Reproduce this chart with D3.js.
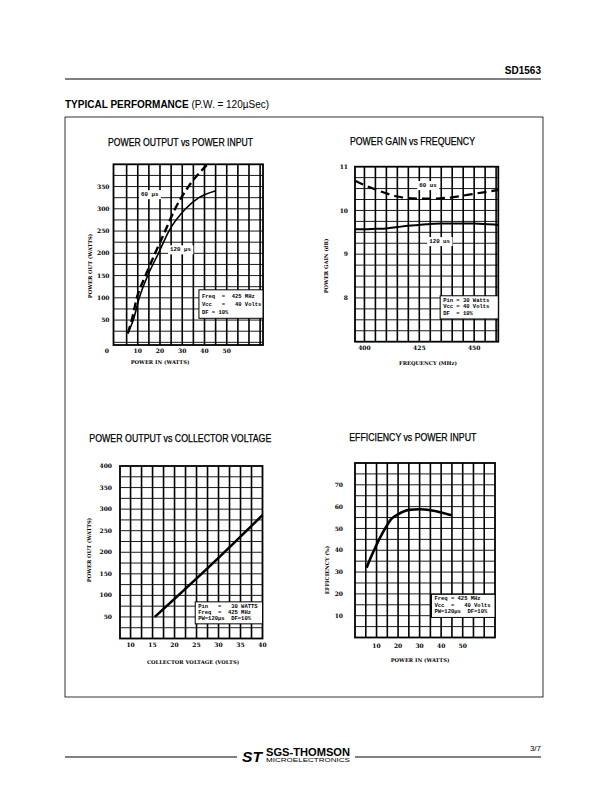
<!DOCTYPE html>
<html>
<head>
<meta charset="utf-8">
<script src="https://cdn.jsdelivr.net/npm/d3@7"></script>
<style>
  body { margin: 0; background: #fff; }
</style>
</head>
<body>
<div id="chart"></div>
<script>
// power output vs power input
const pinIn60 = [5.5, 7.3, 9.6, 13.5, 17.8, 22.3, 26.8, 32.8, 41];
const pout60 = [20, 50, 100, 150, 200, 250, 300, 350, 398];
const pinIn120 = [5.5, 8, 10.7, 14.5, 19.3, 24, 31.5, 37.5, 44.8];
const pout120 = [20, 50, 100, 150, 200, 250, 300, 325, 340];

// power gain vs frequency
const freq = [395.7, 400, 405, 410, 415, 420, 425, 430, 435, 440, 445, 450, 455, 461];
const gain60 = [10.68, 10.58, 10.48, 10.39, 10.32, 10.28, 10.27, 10.27, 10.28, 10.30, 10.34, 10.38, 10.42, 10.47];
const gain120 = [9.57, 9.57, 9.58, 9.59, 9.62, 9.65, 9.67, 9.69, 9.70, 9.70, 9.70, 9.70, 9.69, 9.67];

// power output vs collector voltage
const vcc = [15.5, 30, 40];
const poutVcc = [50, 187, 286];

// efficiency vs power input
const effIn = [5.4, 6.2, 9.3, 14, 17, 20, 25, 30, 35, 40, 45];
const effPct = [32, 34, 41, 50, 54.5, 56.5, 58.5, 58.8, 58.3, 57.3, 56];

const svg = d3.select('#chart').append('svg')
  .attr('width', 612).attr('height', 792)
  .style('font-family', 'Liberation Sans, Arial, sans-serif');

const tickFont = 'DejaVu Serif, serif';
const noteFont = 'Liberation Mono, monospace';

// page header
svg.append('text').attr('x', 541).attr('y', 74).attr('text-anchor', 'end')
  .attr('font-size', 10).attr('font-weight', 'bold').text('SD1563');
svg.append('line').attr('x1', 65).attr('x2', 541).attr('y1', 79).attr('y2', 79)
  .attr('stroke', '#000').attr('stroke-width', 1);
const head = svg.append('text').attr('x', 65).attr('y', 108).attr('font-size', 10);
head.append('tspan').attr('font-weight', 'bold').text('TYPICAL PERFORMANCE ');
head.append('tspan').text('(P.W. = 120\u00b5Sec)');

// outer box
svg.append('rect').attr('x', 65).attr('y', 117).attr('width', 478).attr('height', 580)
  .attr('fill', 'none').attr('stroke', '#000').attr('stroke-width', 0.8);

// footer
svg.append('line').attr('x1', 65).attr('x2', 237).attr('y1', 757).attr('y2', 757).attr('stroke', '#000');
svg.append('line').attr('x1', 355).attr('x2', 541).attr('y1', 757).attr('y2', 757).attr('stroke', '#000');
svg.append('text').attr('x', 541).attr('y', 751).attr('text-anchor', 'end').attr('font-size', 8).text('3/7');
svg.append('text').attr('x', 242).attr('y', 762).attr('font-size', 15).attr('font-weight', 'bold')
  .attr('font-style', 'italic').attr('textLength', 20).attr('lengthAdjust', 'spacingAndGlyphs').text('ST');
svg.append('text').attr('x', 266).attr('y', 756).attr('font-size', 10).attr('font-weight', 'bold')
  .attr('textLength', 84).attr('lengthAdjust', 'spacingAndGlyphs').text('SGS-THOMSON');
svg.append('text').attr('x', 266).attr('y', 762).attr('font-size', 4.5)
  .attr('textLength', 84).attr('lengthAdjust', 'spacingAndGlyphs').text('MICROELECTRONICS');

function panel(o) {
  const g = svg.append('g');
  const x = d3.scaleLinear().domain(o.xDomain).range([o.left, o.right]);
  const y = d3.scaleLinear().domain(o.yDomain).range([o.bottom, o.top]);

  // title
  g.append('text').attr('x', o.title[1]).attr('y', o.title[2]).attr('font-size', 10)
    .attr('stroke', '#000').attr('stroke-width', 0.25)
    .attr('textLength', o.title[3]).attr('lengthAdjust', 'spacingAndGlyphs').text(o.title[0]);

  // grid
  g.selectAll('.gh').data(o.yGrid).join('line')
    .attr('x1', o.left).attr('x2', o.right)
    .attr('y1', d => y(d)).attr('y2', d => y(d))
    .attr('stroke', '#000').attr('stroke-width', 0.9);
  g.selectAll('.gv').data(o.xGrid).join('line')
    .attr('x1', d => x(d)).attr('x2', d => x(d))
    .attr('y1', o.top).attr('y2', o.bottom)
    .attr('stroke', '#000').attr('stroke-width', 1.6);
  g.append('rect').attr('x', o.left).attr('y', o.top)
    .attr('width', o.right - o.left).attr('height', o.bottom - o.top)
    .attr('fill', 'none').attr('stroke', '#000').attr('stroke-width', 1.8);

  // tick labels
  g.selectAll('.ty').data(o.yTicks).join('text')
    .attr('x', o.left - o.yPad).attr('y', d => y(d)).attr('dy', '0.35em')
    .attr('text-anchor', 'end').attr('font-family', tickFont).attr('font-weight', 'bold')
    .attr('font-size', 6).text(d => d);
  g.selectAll('.tx').data(o.xTicks).join('text')
    .attr('x', d => x(d)).attr('y', o.bottom + o.xPad)
    .attr('text-anchor', 'middle').attr('font-family', tickFont).attr('font-weight', 'bold')
    .attr('font-size', 6).text(d => d);

  // axis titles
  g.append('text').attr('transform', `translate(${o.yLab[1]},${o.yLab[2]}) rotate(-90)`)
    .attr('text-anchor', 'middle').attr('font-family', tickFont).attr('font-weight', 'bold')
    .attr('font-size', 5.2).text(o.yLab[0]);
  g.append('text').attr('x', o.xLab[1]).attr('y', o.xLab[2])
    .attr('text-anchor', 'middle').attr('font-family', tickFont).attr('font-weight', 'bold')
    .attr('font-size', 5.2).text(o.xLab[0]);

  // note box
  const nb = o.note;
  const bh = y(nb.y1) - y(nb.y0);
  const step = (bh - 3.5) / 3;
  g.append('rect').attr('x', x(nb.x0)).attr('y', y(nb.y0))
    .attr('width', o.right - x(nb.x0)).attr('height', bh)
    .attr('fill', '#fff').attr('stroke', '#000').attr('stroke-width', 1);
  g.selectAll('.nt').data(nb.lines).join('text')
    .attr('x', x(nb.x0) + 3).attr('y', (d, i) => y(nb.y0) + step - 0.5 + i * step)
    .attr('font-family', noteFont).attr('font-weight', 'bold').attr('font-size', 5.5)
    .style('white-space', 'pre').text(d => d);

  // series
  o.series.forEach(s => {
    const pts = s.xs.map((v, i) => [x(v), y(s.ys[i])]);
    g.append('path').attr('d', d3.line().curve(d3.curveMonotoneX)(pts))
      .attr('fill', 'none').attr('stroke', '#000').attr('stroke-width', s.w || 2)
      .attr('stroke-dasharray', s.dash || null);
  });

  // series labels
  (o.labels || []).forEach(l => {
    const t = g.append('text').attr('x', x(l.x)).attr('y', y(l.y)).attr('dy', '0.35em')
      .attr('font-family', noteFont).attr('font-weight', 'bold').attr('font-size', 5.8)
      .text(l.t);
    const b = t.node().getBBox();
    g.insert('rect', () => t.node()).attr('x', b.x - 2).attr('y', b.y - 1)
      .attr('width', b.width + 4).attr('height', b.height + 2).attr('fill', '#fff');
  });
}

panel({
  title: ['POWER OUTPUT vs POWER INPUT', 108, 146, 145],
  left: 113.5, right: 263, top: 164.3, bottom: 345,
  xDomain: [-0.9, 66.3], yDomain: [-6, 400],
  xGrid: d3.range(5, 66, 5), yGrid: d3.range(0, 400, 25),
  xTicks: [10, 20, 30, 40, 50], yTicks: [50, 100, 150, 200, 250, 300, 350],
  yPad: 4, xPad: 7.5,
  yLab: ['POWER OUT (WATTS)', 92, 266], xLab: ['POWER IN (WATTS)', 160, 364],
  note: { x0: 37.5, y0: 118, y1: 54, lines: ['Freq  =  425 MHz', 'Vcc   =   40 Volts', 'DF = 10%'] },
  series: [
    { xs: pinIn60, ys: pout60, dash: '8,4', w: 2.4 },
    { xs: pinIn120, ys: pout120, w: 1.6 }
  ],
  labels: [{ x: 11.5, y: 333, t: '60 \u00b5s' }, { x: 24.5, y: 209, t: '120 \u00b5s' }]
});
svg.append('text').attr('x', 109).attr('y', 352.5).attr('text-anchor', 'end')
  .attr('font-family', tickFont).attr('font-weight', 'bold').attr('font-size', 6).text('0');

panel({
  title: ['POWER GAIN vs FREQUENCY', 350, 145, 125],
  left: 355, right: 498.3, top: 166.7, bottom: 341.7,
  xDomain: [395.7, 461], yDomain: [7, 11],
  xGrid: d3.range(400, 461, 5), yGrid: d3.range(7.25, 11, 0.25),
  xTicks: [400, 425, 450], yTicks: [8, 9, 10, 11],
  yPad: 7, xPad: 8,
  yLab: ['POWER GAIN (dB)', 328, 266], xLab: ['FREQUENCY (MHz)', 428, 365],
  note: { x0: 434.5, y0: 8.05, y1: 7.52, lines: ['Pin = 30 Watts', 'Vcc = 40 Volts', 'DF  = 10%'] },
  series: [
    { xs: freq, ys: gain60, dash: '9,5', w: 2.2 },
    { xs: freq, ys: gain120, w: 2 }
  ],
  labels: [{ x: 425, y: 10.58, t: '60 us' }, { x: 429.5, y: 9.3, t: '120 us' }]
});

panel({
  title: ['POWER OUTPUT vs COLLECTOR VOLTAGE', 89.3, 442, 182],
  left: 120, right: 262.5, top: 466, bottom: 638.5,
  xDomain: [7.6, 40], yDomain: [0, 400],
  xGrid: d3.range(10, 40, 2.5), yGrid: d3.range(25, 400, 25),
  xTicks: [10, 15, 20, 25, 30, 35, 40], yTicks: [50, 100, 150, 200, 250, 300, 350, 400],
  yPad: 8, xPad: 8.5,
  yLab: ['POWER OUT (WATTS)', 91, 550], xLab: ['COLLECTOR VOLTAGE (VOLTS)', 193, 664],
  note: { x0: 24.7, y0: 85, y1: 34, lines: ['Pin   =   30 WATTS', 'Freq  =  425 MHz', 'PW=120\u00b5s  DF=10%'] },
  series: [{ xs: vcc, ys: poutVcc, w: 2.6 }]
});

panel({
  title: ['EFFICIENCY vs POWER INPUT', 349.3, 441, 127],
  left: 355, right: 495, top: 463, bottom: 637.5,
  xDomain: [0, 65], yDomain: [0, 80],
  xGrid: d3.range(5, 65, 5), yGrid: d3.range(5, 80, 5),
  xTicks: [10, 20, 30, 40, 50], yTicks: [10, 20, 30, 40, 50, 60, 70],
  yPad: 12, xPad: 10,
  yLab: ['EFFICIENCY (%)', 329, 570], xLab: ['POWER IN (WATTS)', 420, 662],
  note: { x0: 35.5, y0: 19.8, y1: 9.2, lines: ['Freq = 425 MHz', 'Vcc  =   40 Volts', 'PW=120\u00b5s  DF=10%'] },
  series: [{ xs: effIn, ys: effPct, w: 2.6 }]
});
</script>
</body>
</html>
